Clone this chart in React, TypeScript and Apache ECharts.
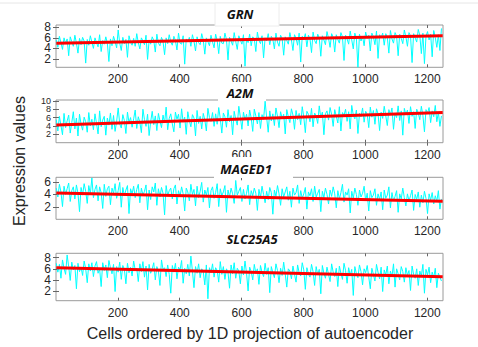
import React, { useEffect, useRef } from 'react';
import * as echarts from 'echarts';

// ---------- data ----------
const geneNames = ['GRN', 'A2M', 'MAGED1', 'SLC25A5'];
const xTickValues = [200, 400, 600, 800, 1000, 1200];
const cellStep = 5; // every 5th cell is kept
const trendCells = [1, 1250];

const grnValues = [
  5.6,4.2,6.3,5.1,3.8,6.0,4.9,5.8,2.6,6.2,5.3,4.4,6.5,5.0,3.1,5.9,4.7,6.1,5.4,1.2,5.7,4.6,6.4,5.2,4.0,
  6.0,5.1,4.3,6.6,3.4,5.5,4.8,6.2,5.0,1.5,5.8,4.5,6.3,5.3,4.1,7.5,5.0,3.6,6.1,4.9,5.7,2.3,6.4,5.2,4.6,
  5.9,4.4,6.8,5.1,3.9,6.0,5.4,4.7,6.5,1.9,5.6,4.8,6.2,5.5,3.3,6.7,5.0,4.5,6.1,5.3,2.8,6.0,4.9,6.6,5.2,
  4.6,6.3,5.5,3.7,6.9,5.0,4.8,6.4,1.0,5.8,5.2,6.1,4.4,6.6,5.4,3.5,6.2,5.1,4.7,6.8,5.6,2.9,6.0,5.3,4.5,
  6.5,5.2,4.1,6.7,5.5,3.0,6.3,5.0,4.9,6.9,5.7,1.8,6.1,5.4,4.6,7.0,5.3,3.8,6.4,5.6,4.8,6.6,0.6,5.9,5.1,
  6.7,4.5,6.2,5.8,3.4,7.1,5.5,4.9,6.4,2.2,6.0,5.4,6.8,4.7,6.3,5.7,3.9,6.9,5.2,4.4,6.5,5.9,2.7,6.2,5.5,
  4.8,7.0,5.6,3.6,6.6,5.9,4.6,6.9,1.4,6.3,5.7,6.8,4.3,6.5,5.8,3.2,7.1,5.5,4.9,6.7,6.0,2.5,6.4,5.6,4.7,
  7.2,5.9,4.2,6.8,6.1,3.3,6.6,5.7,5.0,7.0,6.2,1.7,6.5,5.8,4.8,7.3,5.6,3.9,6.9,6.0,0.4,6.7,5.4,6.3,4.5,
  7.1,5.9,6.5,3.5,6.9,6.2,4.7,7.3,2.1,6.6,6.0,6.9,4.6,6.8,6.1,3.1,7.4,5.8,5.0,7.0,6.3,2.6,6.7,5.9,4.9,
  7.5,6.2,4.4,7.0,6.4,1.3,6.8,6.0,5.2,7.6,6.5,3.0,6.9,1.1,6.3,7.2,5.6,6.7,2.4,7.4,6.1,4.2,6.6,3.6,7.8,
];

const a2mValues = [
  5.5,2.8,6.3,4.1,1.9,7.0,3.6,5.2,6.6,2.3,4.8,7.4,3.3,5.9,1.6,6.8,4.4,3.0,6.1,5.0,2.5,7.2,4.0,5.6,3.1,
  6.9,4.6,2.1,7.6,3.8,5.4,6.3,1.8,5.9,4.2,7.1,3.2,6.5,2.7,5.1,8.3,4.5,3.5,6.7,5.3,2.2,7.3,4.8,6.0,3.7,
  5.7,7.8,3.4,6.2,4.9,2.4,8.0,5.5,3.9,6.8,1.7,5.0,7.5,4.3,6.4,2.9,7.0,5.2,3.6,6.6,4.7,8.5,3.1,5.8,6.9,
  4.5,2.6,7.3,5.6,6.8,3.5,8.1,4.9,6.1,2.0,7.4,5.3,3.8,6.7,5.9,1.6,7.7,4.6,6.3,3.3,7.0,5.5,2.8,8.2,6.0,
  5.1,7.2,3.9,6.9,4.4,8.4,5.8,2.3,7.1,6.2,3.7,7.9,5.0,6.5,1.9,7.5,5.6,4.2,8.7,6.1,3.2,7.3,5.4,6.8,4.0,
  7.8,5.9,2.7,8.0,6.4,4.5,7.2,3.4,6.7,5.6,9.9,6.0,2.5,7.6,5.2,6.9,4.1,8.3,6.3,3.6,7.4,5.8,6.8,2.1,7.9,
  6.2,4.8,8.1,6.6,3.2,7.7,5.5,7.0,4.3,8.6,6.1,2.4,7.5,6.8,5.0,8.2,3.8,7.1,6.4,4.6,8.8,5.9,7.3,1.9,6.9,
  7.6,5.4,8.4,6.7,3.9,7.9,6.3,4.7,8.6,2.8,7.2,6.5,8.0,5.1,7.4,3.3,8.9,6.6,5.7,7.8,2.2,7.0,6.2,8.3,4.9,
  7.5,6.8,3.6,8.5,6.1,7.7,4.4,8.1,6.9,2.9,7.3,5.8,8.7,6.4,4.1,7.9,6.6,8.3,3.2,7.1,6.0,8.8,5.3,7.6,1.8,
  8.2,6.7,7.8,4.6,8.6,6.3,7.4,3.4,8.0,7.1,5.5,8.7,6.5,2.6,7.9,7.0,8.4,4.8,7.6,6.2,8.9,5.0,7.3,3.9,6.4,
];

const maged1Values = [
  5.0,3.6,5.6,4.4,2.1,5.3,4.0,4.9,5.8,2.9,4.6,5.2,3.3,5.5,4.2,1.3,5.1,3.9,5.7,4.5,2.6,5.4,4.1,6.6,3.5,
  4.8,5.5,3.0,5.2,4.3,1.8,5.6,3.7,4.9,5.3,2.4,5.0,4.2,5.7,3.4,4.6,5.9,2.0,5.1,3.8,4.7,5.4,1.0,4.9,4.1,
  5.3,3.5,4.8,5.6,2.7,5.0,3.9,4.5,5.5,1.6,4.7,3.2,5.2,4.4,5.8,2.3,4.9,3.6,5.1,4.2,0.8,5.4,3.8,4.6,5.0,
  3.3,4.9,5.5,2.5,4.6,3.7,5.2,4.1,1.4,5.0,4.4,3.0,5.6,4.0,4.8,2.2,5.3,3.5,4.5,5.9,2.8,4.7,3.9,5.1,1.9,
  4.6,5.2,3.4,4.3,5.7,2.1,4.9,3.8,4.4,5.4,1.2,4.7,3.6,5.0,4.1,2.6,6.2,3.9,4.5,5.1,2.9,4.8,3.3,4.2,5.5,
  2.4,4.6,3.8,5.0,4.2,1.5,4.8,3.5,5.3,4.0,2.7,4.5,3.2,5.1,4.3,0.9,4.7,3.7,5.4,4.1,2.3,4.9,3.6,4.4,5.2,
  3.1,4.5,2.0,5.0,3.9,4.3,5.5,2.6,4.6,3.4,4.1,5.1,1.7,4.4,3.8,4.9,2.9,5.3,3.6,4.2,4.8,1.3,4.5,3.5,5.0,
  4.0,2.5,4.7,3.7,5.2,4.1,1.9,4.6,3.3,4.3,5.6,2.8,4.4,3.9,4.9,1.1,4.5,3.4,5.0,4.0,2.3,4.7,3.6,4.2,5.3,
  3.0,4.2,1.4,4.6,3.5,3.9,4.9,2.3,4.1,3.2,4.4,1.6,4.7,3.4,3.9,5.2,1.9,4.3,3.0,3.7,4.6,1.2,4.1,3.3,5.0,
  3.5,2.2,4.1,3.0,3.8,4.7,1.5,4.0,3.2,4.4,2.0,3.9,2.7,4.5,3.4,1.0,4.1,3.1,4.3,2.5,3.8,2.9,4.6,1.7,3.3,
];

const slc25a5Values = [
  7.0,5.4,6.8,4.3,7.6,6.1,5.0,8.5,6.4,3.9,7.2,5.8,6.6,2.4,7.0,5.5,6.3,4.8,7.4,6.0,3.5,6.9,5.6,7.1,4.6,
  6.5,7.3,5.2,6.0,2.8,7.1,5.7,6.7,4.4,7.5,6.2,5.1,6.8,1.9,6.4,5.4,7.2,4.1,6.6,5.9,3.3,7.0,5.3,6.3,4.7,
  7.4,5.8,6.1,3.7,6.9,5.5,7.3,4.5,6.5,2.2,6.8,5.2,6.0,7.1,4.0,6.4,5.6,3.0,7.6,5.9,6.2,4.6,6.7,5.0,1.6,
  6.6,5.4,7.0,4.2,6.3,5.8,7.5,3.4,6.1,5.1,6.8,4.7,8.3,5.6,2.6,6.4,5.2,6.9,4.4,6.0,5.5,3.1,6.7,0.6,6.2,
  5.3,6.9,4.5,6.2,5.7,3.6,7.3,5.0,6.4,4.1,6.0,5.4,2.5,6.7,5.1,7.1,4.3,6.1,5.6,3.3,6.5,4.9,7.4,5.2,2.0,
  6.3,5.5,4.0,6.8,5.2,6.0,3.2,6.6,5.4,4.6,7.0,5.0,6.2,1.7,6.4,5.3,4.4,6.9,5.7,3.5,6.1,4.8,7.2,5.1,2.7,
  6.0,5.6,4.2,6.5,5.0,3.6,6.7,5.3,4.7,7.1,5.8,2.3,6.2,5.1,4.5,6.8,5.5,3.0,6.4,4.9,5.9,1.5,6.6,5.2,4.3,
  6.3,5.0,3.7,6.9,5.4,4.6,6.1,2.8,6.5,5.2,4.1,7.0,5.7,3.4,6.2,4.8,5.9,1.2,6.4,5.1,4.4,6.7,5.5,3.1,6.0,
  5.3,6.6,4.5,2.4,6.1,5.0,3.8,6.8,5.4,4.2,6.3,1.9,5.8,4.9,6.5,3.3,5.6,4.6,6.9,2.7,6.0,5.1,4.0,6.4,5.5,
  3.6,6.2,4.8,5.7,2.1,6.5,5.0,4.3,6.0,3.0,5.6,4.7,6.8,1.6,5.9,4.9,6.3,3.5,5.4,4.4,6.1,2.6,5.2,4.5,3.8,
];

const grnTrend = [5.0, 6.4];
const a2mTrend = [4.2, 7.2];
const maged1Trend = [4.25, 2.95];
const slc25a5Trend = [6.2, 4.55];

const grnYTicks = [2, 4, 6, 8];
const a2mYTicks = [2, 4, 6, 8, 10];
const maged1YTicks = [2, 4, 6];
const slc25a5YTicks = [2, 4, 6, 8];

const grnYRange = [0.4, 8.45];
const a2mYRange = [0, 10.2];
const maged1YRange = [0.1, 6.7];
const slc25a5YRange = [0.25, 8.8];

const xRange = [0, 1251];

const allValues = [grnValues, a2mValues, maged1Values, slc25a5Values];
const allTrends = [grnTrend, a2mTrend, maged1Trend, slc25a5Trend];
const allYTicks = [grnYTicks, a2mYTicks, maged1YTicks, slc25a5YTicks];
const allYRanges = [grnYRange, a2mYRange, maged1YRange, slc25a5YRange];

export default function App() {
  const ref = useRef<HTMLDivElement>(null);

  useEffect(() => {
    document.body.style.margin = '0';
    if (!ref.current) return;
    const chart = echarts.init(ref.current, null, { renderer: 'svg' });

    const gridTops = [25, 100, 177.3, 253.3];
    const gridHeights = [42.3, 42.7, 42, 47.4];
    const boxColor = '#9a9a9a';
    const labelColor = '#262626';
    const font = '"Liberation Sans", Arial, sans-serif';

    const grids: any[] = [];
    const xAxes: any[] = [];
    const yAxes: any[] = [];
    const series: any[] = [];

    const tickStyle = { color: '#666' };

    for (let i = 0; i < 4; i++) {
      grids.push({
        left: 56,
        width: 387,
        top: gridTops[i],
        height: gridHeights[i],
        show: true,
        borderColor: boxColor,
        borderWidth: 1,
        backgroundColor: 'transparent',
      });
      const yFont = i === 1 ? 9 : 12;
      const xMainIndex = xAxes.length;
      xAxes.push({
        type: 'value',
        gridIndex: i,
        position: 'bottom',
        min: xRange[0],
        max: xRange[1],
        axisLine: { show: false },
        splitLine: { show: false },
        axisTick: { show: true, inside: true, length: 3, customValues: xTickValues, lineStyle: tickStyle },
        axisLabel: {
          show: true,
          customValues: xTickValues,
          hideOverlap: false,
          formatter: (v: number) => String(v),
          color: labelColor,
          fontSize: 12,
          fontFamily: font,
          margin: 6,
        },
      });
      xAxes.push({
        type: 'value',
        gridIndex: i,
        position: 'top',
        min: xRange[0],
        max: xRange[1],
        axisLine: { show: false },
        splitLine: { show: false },
        axisTick: { show: true, inside: true, length: 3, customValues: xTickValues, lineStyle: tickStyle },
        axisLabel: { show: false },
      });

      const yMainIndex = yAxes.length;
      yAxes.push({
        type: 'value',
        gridIndex: i,
        position: 'left',
        min: allYRanges[i][0],
        max: allYRanges[i][1],
        axisLine: { show: false },
        splitLine: { show: false },
        axisTick: { show: true, inside: true, length: 3, customValues: allYTicks[i], lineStyle: tickStyle },
        axisLabel: { show: false },
      });
      yAxes.push({
        type: 'value',
        gridIndex: i,
        position: 'right',
        min: allYRanges[i][0],
        max: allYRanges[i][1],
        axisLine: { show: false },
        splitLine: { show: false },
        axisTick: { show: true, inside: true, length: 3, customValues: allYTicks[i], lineStyle: tickStyle },
        axisLabel: { show: false },
      });
      // one label-only axis per tick value so none get hidden as overlapping
      allYTicks[i].forEach((tv) => {
        yAxes.push({
          type: 'value',
          gridIndex: i,
          position: 'left',
          offset: 0,
          min: allYRanges[i][0],
          max: allYRanges[i][1],
          axisLine: { show: false },
          splitLine: { show: false },
          axisTick: { show: false },
          axisLabel: {
            show: true,
            customValues: [tv],
            showMinLabel: true,
            showMaxLabel: true,
            formatter: (v: number) => String(v),
            color: labelColor,
            fontSize: yFont,
            fontFamily: font,
            margin: 5,
          },
        });
      });

      const pts = allValues[i].map((v, k) => [1 + k * cellStep, v]);
      series.push({
        type: 'line',
        xAxisIndex: xMainIndex,
        yAxisIndex: yMainIndex,
        data: pts,
        symbol: 'none',
        lineStyle: { color: '#00ffff', width: 1 },
        z: 2,
        silent: true,
      });
      series.push({
        type: 'line',
        xAxisIndex: xMainIndex,
        yAxisIndex: yMainIndex,
        data: trendCells.map((c, k) => [c, allTrends[i][k]]),
        symbol: 'none',
        lineStyle: { color: '#ff0000', width: 3 },
        z: 3,
        silent: true,
      });
    }

    // title boxes: [x, y, w, h, textCenterX, textCenterY]
    const titleBoxes = [
      [215, 3, 64, 23, 240, 14],
      [218, 82, 48, 19, 240, 93],
      [214, 157, 79, 21, 246, 169],
      [222, 224, 60, 28, 252, 239],
    ];

    const graphics: any[] = [
      { type: 'line', shape: { x1: 0, y1: 3, x2: 478, y2: 3 }, style: { stroke: '#e6e6e6', lineWidth: 1 }, z: 50 },
    ];
    titleBoxes.forEach((b, i) => {
      graphics.push({
        type: 'rect',
        shape: { x: b[0], y: b[1], width: b[2], height: b[3] },
        style: { fill: '#ffffff', stroke: i === 0 ? '#ececec' : 'none', lineWidth: 1 },
        z: 100,
      });
      graphics.push({
        type: 'text',
        x: b[4],
        y: b[5],
        style: {
          text: geneNames[i],
          fill: '#111',
          font: 'italic bold 13px "Open Sans", "Liberation Sans", Arial, sans-serif',
          textAlign: 'center',
          textVerticalAlign: 'middle',
        },
        z: 101,
      });
    });
    graphics.push({
      type: 'text',
      x: 250,
      y: 333,
      style: {
        text: 'Cells ordered by 1D projection of autoencoder',
        fill: '#262626',
        font: '16px "Liberation Sans", Arial, sans-serif',
        textAlign: 'center',
        textVerticalAlign: 'middle',
      },
      z: 101,
    });
    graphics.push({
      type: 'text',
      x: 19,
      y: 161,
      rotation: Math.PI / 2,
      style: {
        text: 'Expression values',
        fill: '#262626',
        font: '16px "Liberation Sans", Arial, sans-serif',
        textAlign: 'center',
        textVerticalAlign: 'middle',
      },
      z: 101,
    });

    chart.setOption({
      animation: false,
      backgroundColor: '#ffffff',
      grid: grids,
      xAxis: xAxes,
      yAxis: yAxes,
      series,
      graphic: graphics,
    });

    return () => chart.dispose();
  }, []);

  return <div ref={ref} style={{ width: 478, height: 347 }} />;
}
